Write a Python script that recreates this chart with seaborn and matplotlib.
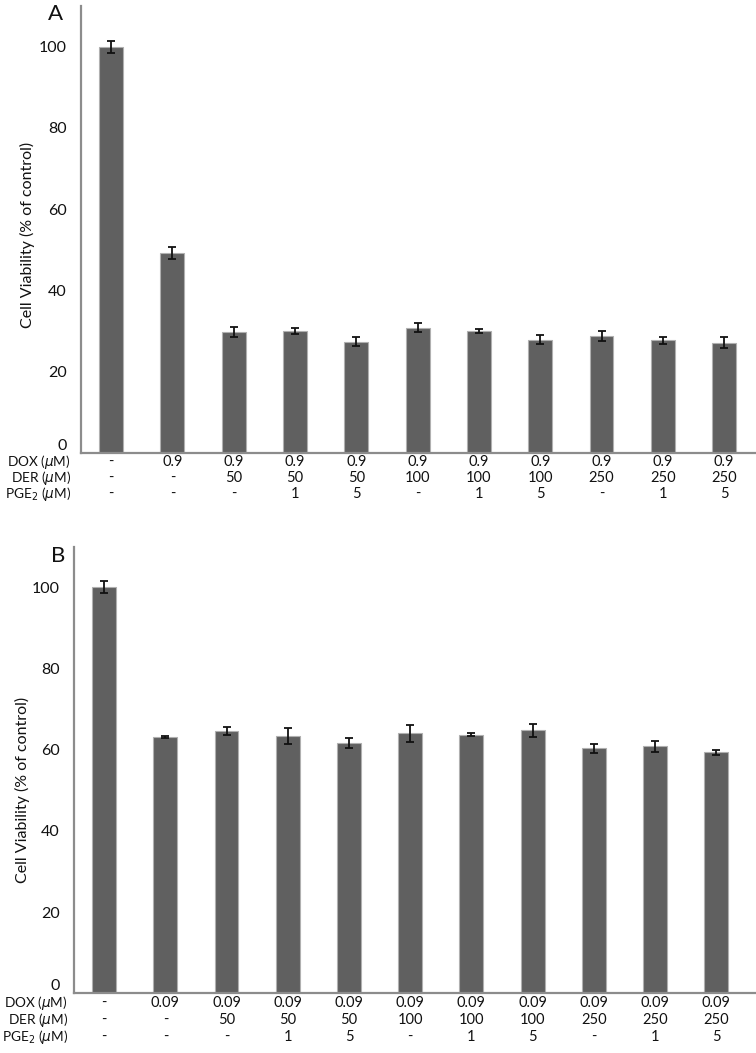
import numpy as np
import pandas as pd
import matplotlib
matplotlib.use("Agg")
import matplotlib.pyplot as plt
import matplotlib.transforms as mtransforms
import seaborn as sns

# data
viab_a = [100, 49.3, 29.8, 30.1, 27.4, 30.9, 30.1, 27.9, 28.8, 27.8, 27.2]
err_a = [1.5, 1.5, 1.3, 0.7, 1.1, 1.1, 0.55, 1.1, 1.3, 0.9, 1.4]
viab_b = [100, 63.1, 64.5, 63.3, 61.7, 64.0, 63.7, 64.8, 60.3, 60.8, 59.4]
err_b = [1.5, 0.3, 1.0, 2.0, 1.3, 2.0, 0.4, 1.6, 1.1, 1.4, 0.6]

dox_a = ['-', '0.9', '0.9', '0.9', '0.9', '0.9', '0.9', '0.9', '0.9', '0.9', '0.9']
dox_b = ['-', '0.09', '0.09', '0.09', '0.09', '0.09', '0.09', '0.09', '0.09', '0.09', '0.09']
der = ['-', '-', '50', '50', '50', '100', '100', '100', '250', '250', '250']
pge = ['-', '-', '-', '1', '5', '-', '1', '5', '-', '1', '5']
row_names = ['DOX ($\\mu$M)', 'DER ($\\mu$M)', 'PGE$_2$ ($\\mu$M)']
yticks = [0, 20, 40, 60, 80, 100]

sns.set_style("white")
plt.rcParams['font.family'] = ['Lato', 'DejaVu Sans']
plt.rcParams['font.size'] = 11

W, H = 756, 1053
fig = plt.figure(figsize=(W / 100, H / 100), dpi=100)


def px_axes(left, right, top, bottom):
    return fig.add_axes([left / W, 1 - bottom / H, (right - left) / W, (bottom - top) / H])


def panel(ax, vals, errs, dox, letter, xmax, rows_y, label_x, letter_xy, ylab_xy):
    df = pd.DataFrame({'cond': [str(i) for i in range(len(vals))], 'viab': vals})
    sns.barplot(data=df, x='cond', y='viab', color='#606060', saturation=1,
                width=0.39, edgecolor='#b0b0b0', linewidth=0.8, errorbar=None, ax=ax)
    ax.errorbar(np.arange(len(vals)), vals, yerr=errs, fmt='none', ecolor='#111111',
                elinewidth=1.3, capsize=2.8, capthick=1.3)
    ax.set_ylim(0, 110)
    ax.set_xlim(-0.5, xmax)
    ax.set_yticks(yticks)
    ax.set_xticks([])
    ax.set_xlabel('')
    ax.set_ylabel('')
    sns.despine(ax=ax)
    for s in ['left', 'bottom']:
        ax.spines[s].set_color('#8c8c8c')
        ax.spines[s].set_linewidth(1.6)
    ax.tick_params(axis='y', direction='out', length=4, width=1, color='#8c8c8c',
                   pad=6, labelsize=11.5, labelcolor='#111111')
    ax.tick_params(axis='x', length=0)
    # lift the zero label a little, as in the original
    ax.get_yticklabels()[0].set_va('bottom')

    trans = mtransforms.blended_transform_factory(ax.transData, fig.transFigure)
    for row, (vals_row, y) in enumerate(zip([dox, der, pge], rows_y)):
        fig.text(label_x / W, 1 - y / H, row_names[row], ha='right', va='center',
                 fontsize=9.8, color='#111111')
        for i, t in enumerate(vals_row):
            ax.text(i, 1 - y / H, t, transform=trans, ha='center', va='center',
                    fontsize=10.5, color='#111111')

    fig.text(letter_xy[0] / W, 1 - letter_xy[1] / H, letter, ha='center', va='center',
             fontsize=16, color='#111111')
    fig.text(ylab_xy[0] / W, 1 - ylab_xy[1] / H, 'Cell Viability (% of control)',
             rotation=90, ha='center', va='center', fontsize=11.5, color='#111111')


ax_a = px_axes(80.5, 756, 6, 453.2)
panel(ax_a, viab_a, err_a, dox_a, 'A', 10.52, [462, 478, 494], 71, (56, 14), (27, 235))

ax_b = px_axes(73.5, 756, 546.7, 993.3)
panel(ax_b, viab_b, err_b, dox_b, 'B', 10.65, [1003, 1020, 1037], 68, (58, 556), (22, 790))

fig.savefig('out.png', dpi=100)
